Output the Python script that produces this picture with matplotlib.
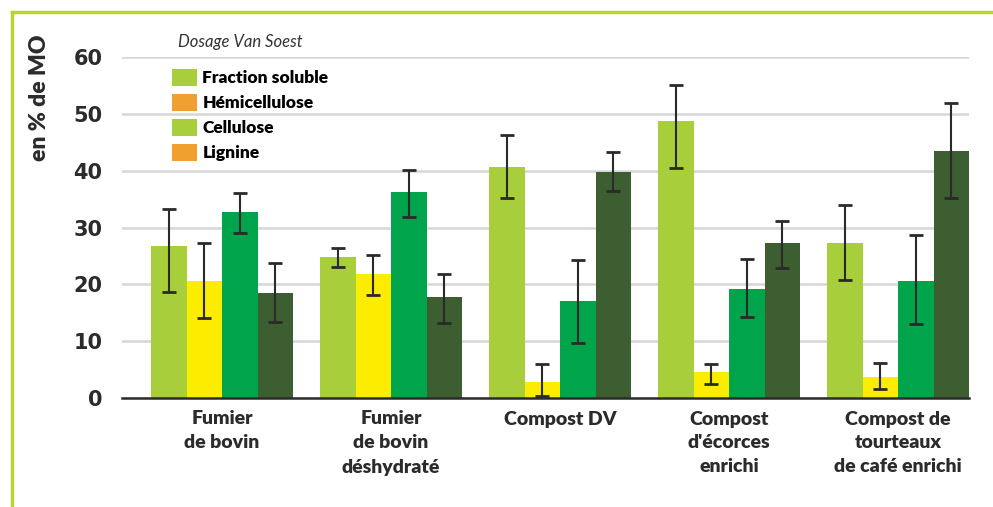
import numpy as np
from matplotlib import pyplot as plt
from matplotlib.lines import Line2D
from matplotlib.patches import Patch

categories = ['Fumier\nde bovin', 'Fumier\nde bovin\ndéshydraté', 'Compost DV',
              "Compost\nd'écorces\nenrichi", 'Compost de\ntourteaux\nde café enrichi']
series = ['Fraction soluble', 'Hémicellulose', 'Cellulose', 'Lignine']

# bar heights, one list per series (in % de MO)
fraction_soluble = [26.7, 24.8, 40.7, 48.7, 27.3]
hemicellulose = [20.6, 21.8, 2.8, 4.6, 3.7]
cellulose = [32.7, 36.2, 17.1, 19.2, 20.5]
lignine = [18.5, 17.8, 39.7, 27.3, 43.5]

# error bar ends (low, high)
fraction_soluble_lo = [18.7, 23.0, 35.2, 40.5, 20.8]
fraction_soluble_hi = [33.3, 26.4, 46.2, 55.1, 33.9]
hemicellulose_lo = [14.0, 18.2, 0.35, 2.5, 1.6]
hemicellulose_hi = [27.3, 25.2, 5.9, 6.0, 6.2]
cellulose_lo = [29.1, 31.9, 9.6, 14.2, 13.1]
cellulose_hi = [36.1, 40.1, 24.2, 24.5, 28.6]
lignine_lo = [13.3, 13.2, 36.5, 22.9, 35.2]
lignine_hi = [23.8, 21.8, 43.2, 31.1, 51.9]

values = [fraction_soluble, hemicellulose, cellulose, lignine]
lows = [fraction_soluble_lo, hemicellulose_lo, cellulose_lo, lignine_lo]
highs = [fraction_soluble_hi, hemicellulose_hi, cellulose_hi, lignine_hi]
bar_colors = ['#a8ce3b', '#fbec00', '#00a44b', '#3c5e31']
legend_colors = ['#a8ce3b', '#f0a02e', '#a8ce3b', '#f0a02e']

plt.rcParams['font.family'] = ['Lato', 'DejaVu Sans']
fig = plt.figure(figsize=(9.93, 5.07), dpi=100)
ax = fig.add_axes([122 / 993, 109 / 507, 847 / 993, 341 / 507])

x = np.arange(len(categories))
w = 0.21
for i in range(len(series)):
    v = np.array(values[i])
    yerr = [v - np.array(lows[i]), np.array(highs[i]) - v]
    ax.bar(x + (i - 1.5) * w, v, width=w, color=bar_colors[i], zorder=2)
    ax.errorbar(x + (i - 1.5) * w, v, yerr=yerr, fmt='none', ecolor='#2a2a2a',
                elinewidth=1.5, capsize=5, capthick=2, zorder=3)

ax.set_xlim(-0.592, 4.42)
ax.set_ylim(0, 60)
ax.set_yticks(range(0, 61, 10))
ax.grid(axis='y', color='#d6d6d6', linewidth=1.8, zorder=0)
ax.set_axisbelow(True)
for s in ['top', 'right', 'left']:
    ax.spines[s].set_visible(False)
ax.spines['bottom'].set_color('#2b2b2b')
ax.spines['bottom'].set_linewidth(1.8)
ax.tick_params(length=0)
ax.tick_params(axis='y', pad=14, labelsize=15, labelcolor='#2b2b2b')
ax.tick_params(axis='x', pad=9, labelsize=14, labelcolor='#2b2b2b')
for t in ax.get_yticklabels():
    t.set_fontweight('bold')
    t.set_family(['DejaVu Sans'])
ax.set_xticks(x)
ax.set_xticklabels(categories, fontweight='heavy', linespacing=1.5)

fig.text(40 / 993, 1 - 98 / 507, 'en % de MO', rotation=90, ha='center', va='center',
         fontsize=16.5, fontweight='heavy', color='#2b2b2b')
fig.text(178 / 993, 1 - 42 / 507, 'Dosage Van Soest', ha='left', va='center',
         fontsize=12, style='italic', color='#333333')

handles = [Patch(facecolor=c, edgecolor='none') for c in legend_colors]
fig.legend(handles, series, loc='upper left', bbox_to_anchor=(172 / 993, 1 - 69 / 507),
           frameon=False, prop={'weight': 'heavy', 'size': 12.5}, handlelength=1.45,
           handleheight=1.1, handletextpad=0.3, labelspacing=0.45, borderpad=0,
           borderaxespad=0)

# green frame on the top and left
fig.add_artist(Line2D([12 / 993, 1], [1 - 12 / 507] * 2, color='#b9d531', lw=2.5))
fig.add_artist(Line2D([12 / 993] * 2, [0, 1 - 12 / 507], color='#b9d531', lw=2.5))

fig.savefig('out.png', dpi=100)
